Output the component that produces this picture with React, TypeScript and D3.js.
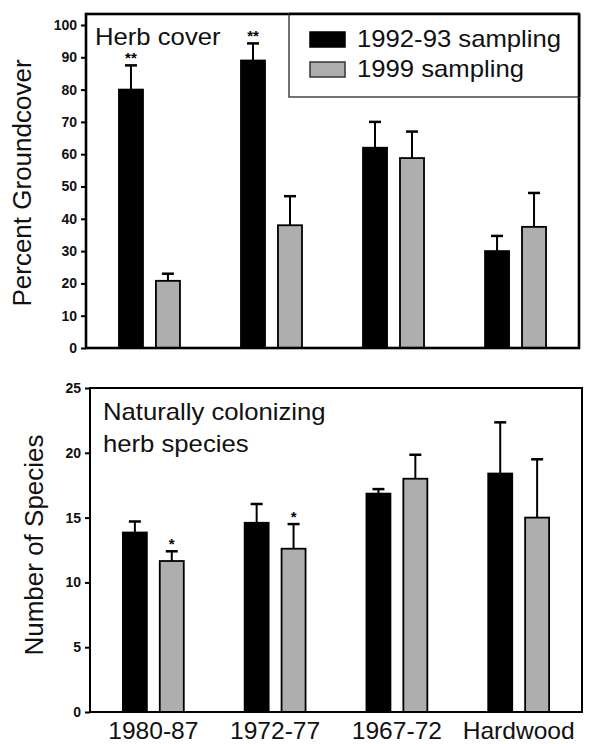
import React, { useRef, useEffect } from "react";
import * as d3 from "d3";

// stand ages / forest type
const categories = ["1980-87", "1972-77", "1967-72", "Hardwood"];
const seriesNames = ["1992-93 sampling", "1999 sampling"];

// herb cover (%)
const coverMean9293 = [80, 89, 62, 30];
const coverErr9293 = [7.5, 5.3, 8, 4.7];
const coverMean1999 = [20.8, 38, 58.8, 37.5];
const coverErr1999 = [2.2, 9, 8.2, 10.5];
const coverSig9293 = ["**", "**", "", ""];
const coverSig1999 = ["", "", "", ""];
const coverTicks = [0, 10, 20, 30, 40, 50, 60, 70, 80, 90, 100];

// naturally colonizing herb species (count)
const speciesMean9293 = [13.85, 14.6, 16.85, 18.4];
const speciesErr9293 = [0.85, 1.45, 0.35, 3.95];
const speciesMean1999 = [11.65, 12.6, 18.0, 15.0];
const speciesErr1999 = [0.75, 1.9, 1.85, 4.5];
const speciesSig9293 = ["", "", "", ""];
const speciesSig1999 = ["*", "*", "", ""];
const speciesTicks = [0, 5, 10, 15, 20, 25];

const FONT = "'Liberation Sans', Arial, Helvetica, sans-serif";
const fills = ["#000000", "#aeaeae"];
const WIDE = 1.07; // the scanned lettering is a little wider than Arial

const wideText = (sel, x, y, str, size, anchor = "start") =>
	sel
		.append("text")
		.attr("transform", `translate(${x},${y}) scale(${WIDE},1)`)
		.attr("text-anchor", anchor)
		.attr("font-family", FONT)
		.attr("font-size", size)
		.attr("fill", "#111")
		.text(str);

const drawPanel = (root, p) => {
	const x = d3
		.scaleBand()
		.domain(categories)
		.range([p.left, p.right])
		.paddingInner(0.5)
		.paddingOuter(0.27);
	const xs = d3
		.scaleBand()
		.domain(seriesNames)
		.range([0, x.bandwidth()])
		.paddingInner(0.35);
	const y = d3.scaleLinear().domain([0, p.yMax]).range([p.bottom, p.top]);

	const g = root.append("g");

	seriesNames.forEach((s, si) => {
		const rows = categories.map((c, i) => ({
			c,
			mean: p.means[si][i],
			err: p.errs[si][i],
			sig: p.sig[si][i],
		}));
		const cx = (d) => x(d.c) + xs(s) + xs.bandwidth() / 2;
		const sg = g.append("g");

		// error whiskers (upper only)
		sg.selectAll("line.whisker")
			.data(rows)
			.join("line")
			.attr("class", "whisker")
			.attr("x1", cx)
			.attr("x2", cx)
			.attr("y1", (d) => y(d.mean))
			.attr("y2", (d) => y(d.mean + d.err))
			.attr("stroke", "#000")
			.attr("stroke-width", 2);
		sg.selectAll("line.cap")
			.data(rows)
			.join("line")
			.attr("class", "cap")
			.attr("x1", (d) => cx(d) - 6)
			.attr("x2", (d) => cx(d) + 6)
			.attr("y1", (d) => y(d.mean + d.err))
			.attr("y2", (d) => y(d.mean + d.err))
			.attr("stroke", "#000")
			.attr("stroke-width", 2.5);

		sg.selectAll("rect")
			.data(rows)
			.join("rect")
			.attr("x", (d) => x(d.c) + xs(s))
			.attr("width", xs.bandwidth())
			.attr("y", (d) => y(d.mean))
			.attr("height", (d) => y(0) - y(d.mean))
			.attr("fill", fills[si])
			.attr("stroke", "#000")
			.attr("stroke-width", 1.8);

		sg.selectAll("text.sig")
			.data(rows.filter((d) => d.sig))
			.join("text")
			.attr("class", "sig")
			.attr("x", cx)
			.attr("y", (d) => y(d.mean + d.err) - 2)
			.attr("text-anchor", "middle")
			.attr("font-family", FONT)
			.attr("font-weight", "bold")
			.attr("font-size", 15)
			.text((d) => d.sig);
	});

	// frame
	g.append("rect")
		.attr("x", p.left)
		.attr("y", p.top)
		.attr("width", p.right - p.left)
		.attr("height", p.bottom - p.top)
		.attr("fill", "none")
		.attr("stroke", "#000")
		.attr("stroke-width", p.frame);

	const axis = g
		.append("g")
		.attr("transform", `translate(${p.left},0)`)
		.call(d3.axisLeft(y).tickValues(p.ticks).tickSize(5).tickPadding(4));
	axis.select(".domain").remove();
	axis.selectAll(".tick line").attr("stroke", "#000").attr("stroke-width", 2);
	axis.selectAll(".tick text")
		.attr("font-family", FONT)
		.attr("font-weight", "bold")
		.attr("font-size", 14)
		.attr("fill", "#111");

	g.append("text")
		.attr("transform", `translate(${p.yLabelX},${p.yLabelY}) rotate(-90)`)
		.attr("text-anchor", "middle")
		.attr("font-family", FONT)
		.attr("font-size", 26)
		.attr("fill", "#111")
		.text(p.yLabel);

	p.title.forEach((line, i) => {
		wideText(g, p.titleX, p.titleY + i * 32, line, 24);
	});

	return { x, g };
};

const drawChart = (svgRef) => {
	const svg = d3.select(svgRef.current);
	svg.selectAll("*").remove();
	svg.append("rect").attr("width", 590).attr("height", 744).attr("fill", "#fff");

	const top = drawPanel(svg, {
		left: 86,
		right: 579,
		top: 14,
		bottom: 348,
		yMax: 103.4,
		ticks: coverTicks,
		means: [coverMean9293, coverMean1999],
		errs: [coverErr9293, coverErr1999],
		sig: [coverSig9293, coverSig1999],
		frame: 2.6,
		yLabel: "Percent Groundcover",
		yLabelX: 31,
		yLabelY: 183,
		title: ["Herb cover"],
		titleX: 95,
		titleY: 45,
	});

	// legend
	const lg = top.g.append("g");
	lg.append("rect")
		.attr("x", 289)
		.attr("y", 14)
		.attr("width", 290)
		.attr("height", 83)
		.attr("fill", "#fff")
		.attr("stroke", "#444")
		.attr("stroke-width", 1.5);
	lg.append("line")
		.attr("x1", 289)
		.attr("x2", 579)
		.attr("y1", 14)
		.attr("y2", 14)
		.attr("stroke", "#000")
		.attr("stroke-width", 2.6);
	lg.append("line")
		.attr("x1", 579)
		.attr("x2", 579)
		.attr("y1", 14)
		.attr("y2", 97)
		.attr("stroke", "#000")
		.attr("stroke-width", 2.6);
	seriesNames.forEach((s, i) => {
		lg.append("rect")
			.attr("x", 310)
			.attr("y", 32 + i * 30)
			.attr("width", 35)
			.attr("height", 15)
			.attr("fill", fills[i])
			.attr("stroke", i ? "#333" : "#000")
			.attr("stroke-width", 1.5);
		wideText(lg, 357, 47 + i * 30, s, 24);
	});

	const bottom = drawPanel(svg, {
		left: 90,
		right: 582,
		top: 388,
		bottom: 712,
		yMax: 25,
		ticks: speciesTicks,
		means: [speciesMean9293, speciesMean1999],
		errs: [speciesErr9293, speciesErr1999],
		sig: [speciesSig9293, speciesSig1999],
		frame: 2,
		yLabel: "Number of Species",
		yLabelX: 43,
		yLabelY: 545,
		title: ["Naturally colonizing", "herb species"],
		titleX: 103,
		titleY: 420,
	});

	categories.forEach((c) => {
		wideText(
			bottom.g,
			bottom.x(c) + bottom.x.bandwidth() / 2,
			739,
			c,
			23,
			"middle"
		);
	});
};

const App = () => {
	const svg = useRef(null);

	useEffect(() => {
		drawChart(svg);
	}, []);

	return (
		<svg
			ref={svg}
			width={590}
			height={744}
			style={{ position: "absolute", left: 0, top: 0, display: "block" }}
		/>
	);
};

export default App;
